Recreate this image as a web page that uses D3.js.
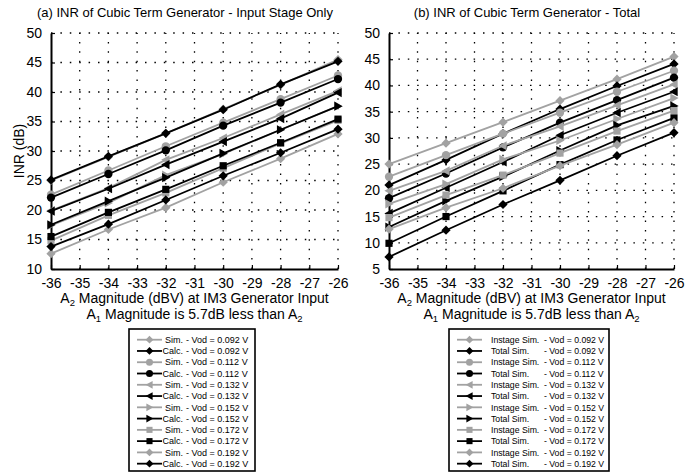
<!DOCTYPE html>
<html>
<head>
<meta charset="UTF-8">
<title>INR of Cubic Term Generator</title>
<script src="https://d3js.org/d3.v7.min.js"></script>
<style>
    body { margin: 0; background: #fff; font-family: "Liberation Sans", Arial, sans-serif; }
    svg { display: block; }
    .tick text { font-family: "Liberation Sans", Arial, sans-serif; font-size: 14px; fill: #000; }
    .grid line { stroke: #000; stroke-width: 1.3; stroke-dasharray: 1.5 7.9; }
</style>
</head>
<body>
<svg id="chart" width="698" height="476"></svg>
<script>
// x values (A2 magnitude, dBV)
const xVals = [-36, -34, -32, -30, -28, -26];
const vods = ["0.092", "0.112", "0.132", "0.152", "0.172", "0.192"];
const markers = ["diamond", "circle", "triLeft", "triRight", "square", "diamond"];

// input stage simulation (gray, both panels)
const instageSim = [
    [25.0, 29.0, 33.0, 37.1, 41.2, 45.5],
    [22.6, 26.7, 30.8, 34.8, 38.8, 42.8],
    [19.9, 23.7, 28.5, 32.2, 36.2, 40.2],
    [17.4, 21.2, 25.9, 29.5, 33.6, 37.6],
    [14.8, 19.1, 22.9, 27.1, 31.3, 35.2],
    [12.6, 16.7, 20.4, 24.7, 28.7, 32.9]
];
// calculated (black, panel a)
const calc = [
    [25.1, 29.1, 33.0, 37.0, 41.3, 45.2],
    [22.1, 26.1, 30.1, 34.3, 38.2, 42.2],
    [19.8, 23.6, 27.7, 31.6, 35.5, 39.9],
    [17.5, 21.5, 25.5, 29.6, 33.6, 37.6],
    [15.5, 19.6, 23.5, 27.5, 31.4, 35.4],
    [13.8, 17.6, 21.7, 25.8, 29.7, 33.7]
];
// total simulation (black, panel b)
const totalSim = [
    [21.0, 25.8, 30.8, 35.5, 39.9, 44.1],
    [18.5, 23.2, 28.2, 32.9, 37.2, 41.5],
    [15.6, 20.5, 25.4, 30.5, 34.8, 38.8],
    [13.0, 18.0, 22.6, 27.6, 32.4, 36.1],
    [9.9, 15.0, 19.9, 24.9, 29.6, 33.8],
    [7.3, 12.4, 17.3, 21.9, 26.6, 31.0]
];

const xTicks = d3.range(-36, -25, 1);
const yTicksA = [10, 15, 20, 25, 30, 35, 40, 45, 50];
const yTicksB = [5, 10, 15, 20, 25, 30, 35, 40, 45, 50];

const GRAY = "#a2a2a2";
const svg = d3.select("#chart");

function markerPath(type, s) {
    if (type === "diamond") return `M0,${-s}L${s},0L0,${s}L${-s},0Z`;
    if (type === "square") { const h = s * 0.78; return `M${-h},${-h}L${h},${-h}L${h},${h}L${-h},${h}Z`; }
    if (type === "triLeft") return `M${-s},0L${s * 0.8},${-s}L${s * 0.8},${s}Z`;
    if (type === "triRight") return `M${s},0L${-s * 0.8},${-s}L${-s * 0.8},${s}Z`;
    return null;
}

function drawMarker(g, type, color, cx, cy, s) {
    if (type === "circle") {
        g.append("circle").attr("cx", cx).attr("cy", cy).attr("r", s * 0.9).attr("fill", color);
    } else {
        g.append("path").attr("d", markerPath(type, s))
            .attr("transform", `translate(${cx},${cy})`).attr("fill", color);
    }
}

function drawPanel(o) {
    const x = d3.scaleLinear().domain([-36, -26]).range([o.x0, o.x1]);
    const y = d3.scaleLinear().domain(o.yDomain).range([269, 33]);
    const g = svg.append("g");

    // dotted grid
    g.append("g").attr("class", "grid").selectAll("line")
        .data(xTicks.slice(1)).join("line")
        .attr("x1", d => x(d)).attr("x2", d => x(d)).attr("y1", 269).attr("y2", 33);
    g.append("g").attr("class", "grid").selectAll("line")
        .data(o.yTicks.slice(1)).join("line")
        .attr("x1", o.x0).attr("x2", o.x1).attr("y1", d => y(d)).attr("y2", d => y(d));

    // axes
    const ax = g.append("g").attr("transform", "translate(0,269)")
        .call(d3.axisBottom(x).tickValues(xTicks).tickSizeInner(-4).tickSizeOuter(0).tickPadding(9).tickFormat(d3.format("d")));
    const ay = g.append("g").attr("transform", `translate(${o.x0},0)`)
        .call(d3.axisLeft(y).tickValues(o.yTicks).tickSizeInner(-4).tickSizeOuter(0).tickPadding(9));
    [ax, ay].forEach(a => {
        a.select(".domain").attr("stroke", "#000").attr("stroke-width", 2);
        a.selectAll(".tick line").attr("stroke", "#000").attr("stroke-width", 1.2);
    });
    // plain hyphen for negative ticks, as in the original
    ax.selectAll(".tick text").text(d => String(d));

    // series, drawn in legend order so black ends on top
    const line = d3.line().x((d, i) => x(xVals[i])).y(d => y(d));
    vods.forEach((v, k) => {
        [[o.gray[k], GRAY], [o.black[k], "#000"]].forEach(([vals, color]) => {
            const sg = g.append("g");
            sg.append("path").attr("d", line(vals)).attr("fill", "none")
                .attr("stroke", color).attr("stroke-width", 1.8);
            vals.forEach((d, i) => drawMarker(sg, markers[k], color, x(xVals[i]), y(d), 4.6));
        });
    });

    // titles
    const cx = (o.x0 + o.x1) / 2;
    svg.append("text").attr("x", o.titleX).attr("y", 17).attr("text-anchor", "middle")
        .attr("font-size", 13).text(o.title);
    const t1 = svg.append("text").attr("x", cx).attr("y", 303).attr("text-anchor", "middle").attr("font-size", 14);
    t1.append("tspan").text("A");
    t1.append("tspan").attr("font-size", 9.5).attr("dy", 2.5).text("2");
    t1.append("tspan").attr("dy", -2.5).text(" Magnitude (dBV) at IM3 Generator Input");
    const t2 = svg.append("text").attr("x", cx).attr("y", 319).attr("text-anchor", "middle").attr("font-size", 14);
    t2.append("tspan").text("A");
    t2.append("tspan").attr("font-size", 9.5).attr("dy", 2.5).text("1");
    t2.append("tspan").attr("dy", -2.5).text(" Magnitude is 5.7dB less than A");
    t2.append("tspan").attr("font-size", 9.5).attr("dy", 2.5).text("2");

    // legend
    const lg = svg.append("g");
    lg.append("rect").attr("x", o.legX).attr("y", 329).attr("width", o.legW).attr("height", 142)
        .attr("fill", "#fff").attr("stroke", "#000").attr("stroke-width", 1.6);
    let row = 0;
    vods.forEach((v, k) => {
        [[GRAY, o.grayLabel], ["#000", o.blackLabel]].forEach(([color, label]) => {
            const ry = 339.7 + row * 11.27;
            const sx = o.legX + 8;
            lg.append("line").attr("x1", sx).attr("x2", sx + 25).attr("y1", ry).attr("y2", ry)
                .attr("stroke", color).attr("stroke-width", 1.8);
            drawMarker(lg, markers[k], color, sx + 12.5, ry, 3.9);
            const pre = lg.append("text").attr("y", ry + 3.2).attr("font-size", o.legFont).text(label);
            if (o.preAnchor === "end") pre.attr("x", o.legX + 54).attr("text-anchor", "end");
            else pre.attr("x", sx + 34);
            lg.append("text").attr("x", o.legX + o.sufX).attr("y", ry + 3.2).attr("font-size", o.legFont)
                .text(`- Vod = ${v} V`);
            row++;
        });
    });
}

drawPanel({
    x0: 51, x1: 338, yDomain: [10, 50], yTicks: yTicksA,
    gray: instageSim, black: calc,
    title: "(a) INR of Cubic Term Generator - Input Stage Only", titleX: 185,
    legX: 129, legW: 126, legFont: 9, preAnchor: "end", sufX: 57,
    grayLabel: "Sim.", blackLabel: "Calc."
});
drawPanel({
    x0: 389, x1: 674, yDomain: [5, 50], yTicks: yTicksB,
    gray: instageSim, black: totalSim,
    title: "(b) INR of Cubic Term Generator - Total", titleX: 527,
    legX: 449, legW: 160, legFont: 8.7, preAnchor: "start", sufX: 95,
    grayLabel: "Instage Sim.", blackLabel: "Total Sim."
});

// y-axis label (left panel only)
svg.append("text").attr("transform", "translate(24,151) rotate(-90)")
    .attr("text-anchor", "middle").attr("font-size", 14).text("INR (dB)");
</script>
</body>
</html>
